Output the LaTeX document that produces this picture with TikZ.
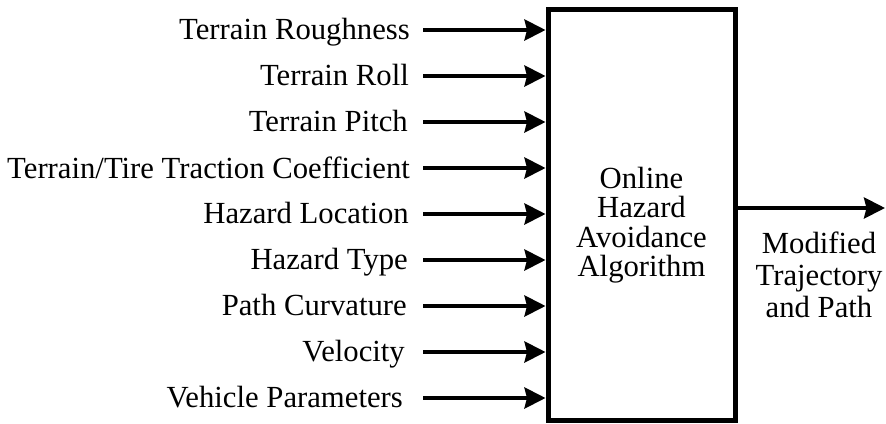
\documentclass[tikz,border=0pt]{standalone}
\usepackage{fontspec}
\setmainfont{Liberation Serif}
\usepackage{tikz}
\usetikzlibrary{arrows.meta}

\tikzset{
  inlabel/.style={anchor=base east,inner sep=0pt,font=\fontsize{30.7}{30}\selectfont},
  feed/.style={line width=3.8pt,-{Stealth[length=21pt,width=21pt,inset=2.5pt]}}
}

\begin{document}
\begin{tikzpicture}[x=1pt,y=-1pt]
   \useasboundingbox (0,0) rectangle (886,423);
   \node[draw,line width=5pt,minimum width=187pt,minimum height=411pt,inner sep=0pt] (alg) at (641.5,215) {};
   \node[align=center,inner sep=0pt,font=\fontsize{30.7}{29.5}\selectfont] (algtxt) at (641.5,225)
        {Online\\Hazard\\Avoidance\\Algorithm};
   % input arrow starts
   \coordinate (s1) at (423,30);
   \coordinate (s2) at (423,76);
   \coordinate (s3) at (423,122);
   \coordinate (s4) at (423,168);
   \coordinate (s5) at (423,214);
   \coordinate (s6) at (423,260);
   \coordinate (s7) at (423,306);
   \coordinate (s8) at (423,352);
   \coordinate (s9) at (423,398);
   \node[inlabel] (l1) at ([xshift=-13pt,yshift=-9pt]s1) {Terrain Roughness};
   \node[inlabel] (l2) at ([xshift=-14pt,yshift=-9pt]s2) {Terrain Roll};
   \node[inlabel] (l3) at ([xshift=-15pt,yshift=-9pt]s3) {Terrain Pitch};
   \node[inlabel] (l4) at ([xshift=-13pt,yshift=-10pt]s4) {Terrain/Tire Traction Coefficient};
   \node[inlabel] (l5) at ([xshift=-14pt,yshift=-9pt]s5) {Hazard Location};
   \node[inlabel] (l6) at ([xshift=-15pt,yshift=-9pt]s6) {Hazard Type};
   \node[inlabel] (l7) at ([xshift=-16pt,yshift=-9pt]s7) {Path Curvature};
   \node[inlabel] (l8) at ([xshift=-18pt,yshift=-9pt]s8) {Velocity};
   \node[inlabel] (l9) at ([xshift=-20pt,yshift=-9pt]s9) {Vehicle Parameters};
   \path[feed] (s1) edge (alg.west |- s1)  (s2) edge (alg.west |- s2)
               (s3) edge (alg.west |- s3)  (s4) edge (alg.west |- s4)
               (s5) edge (alg.west |- s5)  (s6) edge (alg.west |- s6)
               (s7) edge (alg.west |- s7)  (s8) edge (alg.west |- s8)
               (s9) edge (alg.west |- s9);
   % output
   \coordinate (o1) at (885,208);
   \draw[feed] (alg.east |- o1) -- (o1);
   \node[align=center,inner sep=0pt,font=\fontsize{30.7}{32}\selectfont] (outtxt) at (819,275)
        {Modified\\Trajectory\\and Path};
\end{tikzpicture}
\end{document}
